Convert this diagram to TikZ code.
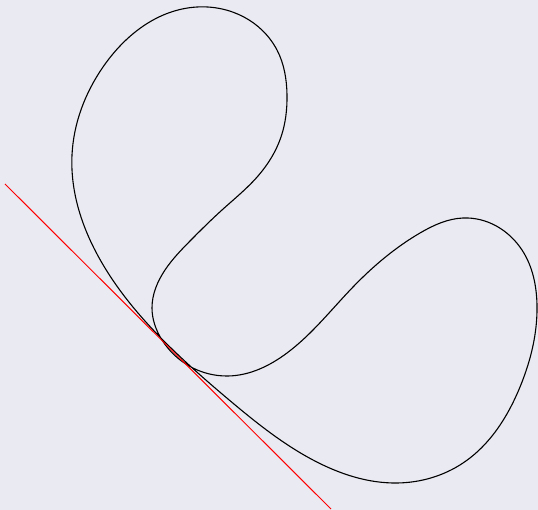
\documentclass[tikz,border=0pt]{standalone}
\usetikzlibrary{hobby}
\definecolor{bgcol}{HTML}{EAEAF2}
\tikzset{curveline/.style={line width=1.1pt, black, line join=round},
         tangentline/.style={line width=1pt, red}}
\begin{document}
\begin{tikzpicture}[x=1pt,y=-1pt]
\fill[bgcol] (0,0) rectangle (538,510);
\useasboundingbox (0,0) rectangle (538,510);
\draw[curveline, use Hobby shortcut, closed=true]
 (72,155) .. (103,67) .. (197,7) .. (277,50) .. (287,95) .. (281,137) ..
 (258,176) .. (222,210) .. (191,240) .. (165,270) .. (152,308) .. (162,340) .. (228,376) .. (287,353) ..
 (353,287) .. (420,233) .. (463,218) .. (522,250) .. (537,305) .. (520,387) ..
 (463,463) .. (397,483) .. (313,460) .. (228,399) .. (172,349) .. (105,268);
\coordinate (t1) at (5,184);
\coordinate (t2) at (331,509);
\draw[tangentline] (t1) -- (t2);
\end{tikzpicture}
\end{document}
